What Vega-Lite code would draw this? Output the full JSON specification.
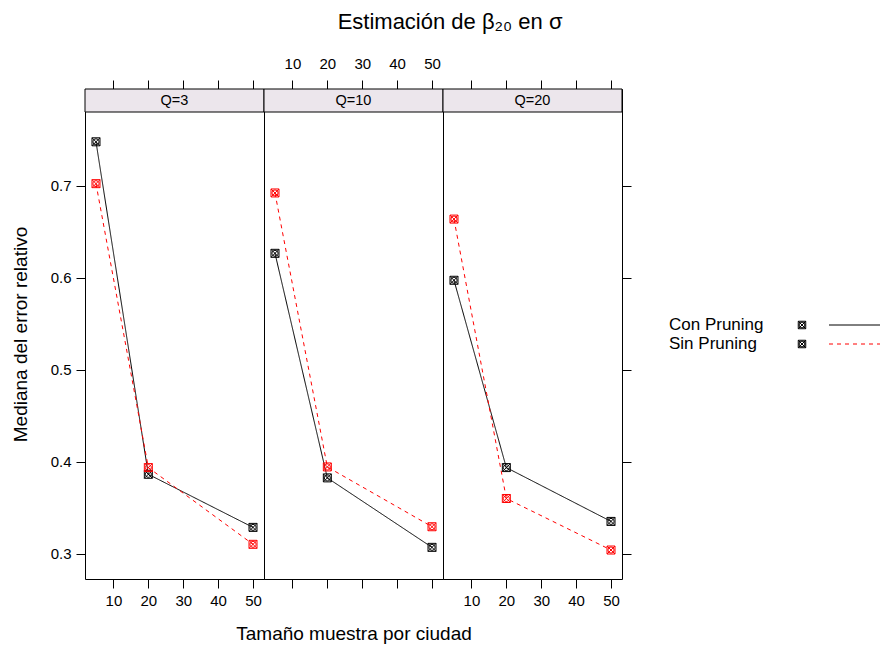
{
  "$schema": "https://vega.github.io/schema/vega-lite/v6.json",
  "padding": {"left": 10, "top": 10, "right": 0, "bottom": 0},
  "autosize": {"type": "pad"},
  "background": "white",
  "title": {"text": "Estimación de β₂₀ en σ", "font": "Liberation Sans", "fontSize": 22, "fontWeight": "normal", "color": "black", "anchor": "middle", "frame": "bounds", "offset": 22, "dx": 4},
  "config": {
    "font": "Liberation Sans",
    "view": {"stroke": "black", "strokeWidth": 1},
    "axis": {"grid": false, "domain": false, "tickColor": "black", "tickSize": 9, "labelFont": "Liberation Sans", "labelFontSize": 15, "labelColor": "black", "titleFont": "Liberation Sans", "titleFontSize": 19, "titleFontWeight": "normal", "titleColor": "black"}
  },
  "datasets": {
    "obs": [
      {"Q": "Q=3", "serie": "Con Pruning", "n": 5, "v": 0.748},
      {"Q": "Q=3", "serie": "Con Pruning", "n": 20, "v": 0.3866},
      {"Q": "Q=3", "serie": "Con Pruning", "n": 50, "v": 0.3289},
      {"Q": "Q=3", "serie": "Sin Pruning", "n": 5, "v": 0.7025},
      {"Q": "Q=3", "serie": "Sin Pruning", "n": 20, "v": 0.3939},
      {"Q": "Q=3", "serie": "Sin Pruning", "n": 50, "v": 0.3105},
      {"Q": "Q=10", "serie": "Con Pruning", "n": 5, "v": 0.6268},
      {"Q": "Q=10", "serie": "Con Pruning", "n": 20, "v": 0.3827},
      {"Q": "Q=10", "serie": "Con Pruning", "n": 50, "v": 0.3072},
      {"Q": "Q=10", "serie": "Sin Pruning", "n": 5, "v": 0.6924},
      {"Q": "Q=10", "serie": "Sin Pruning", "n": 20, "v": 0.3946},
      {"Q": "Q=10", "serie": "Sin Pruning", "n": 50, "v": 0.3296},
      {"Q": "Q=20", "serie": "Con Pruning", "n": 5, "v": 0.5975},
      {"Q": "Q=20", "serie": "Con Pruning", "n": 20, "v": 0.3939},
      {"Q": "Q=20", "serie": "Con Pruning", "n": 50, "v": 0.3354},
      {"Q": "Q=20", "serie": "Sin Pruning", "n": 5, "v": 0.664},
      {"Q": "Q=20", "serie": "Sin Pruning", "n": 20, "v": 0.3603},
      {"Q": "Q=20", "serie": "Sin Pruning", "n": 50, "v": 0.3043}
    ],
    "strips": [{"Q": "Q=3"}, {"Q": "Q=10"}, {"Q": "Q=20"}],
    "leg": [{"serie": "Con Pruning"}, {"serie": "Sin Pruning"}]
  },
  "spacing": 0,
  "bounds": "flush",
  "resolve": {"scale": {"x": "independent", "y": "independent", "color": "shared", "strokeDash": "shared"}},
  "hconcat": [
    {
      "width": 179, "height": 490,
      "layer": [
        {"data": {"name": "strips"}, "transform": [{"filter": "datum.Q == 'Q=3'"}],
         "mark": {"type": "rect", "fill": "#ECE6EC", "stroke": "black", "strokeWidth": 1},
         "encoding": {"x": {"datum": 1.85, "type": "quantitative", "axis": null}, "x2": {"datum": 53.15},
           "y": {"datum": 0.7804, "type": "quantitative", "axis": {"orient": "left", "values": [0.3, 0.4, 0.5, 0.6, 0.7], "format": ".1f", "title": "Mediana del error relativo", "titlePadding": 20, "labelPadding": 5}}, "y2": {"datum": 0.8054}}},
        {"data": {"name": "strips"}, "transform": [{"filter": "datum.Q == 'Q=3'"}],
         "mark": {"type": "text", "fontSize": 14.5, "font": "Liberation Sans", "color": "black", "baseline": "middle"},
         "encoding": {"x": {"datum": 27.5, "type": "quantitative", "axis": null},
           "y": {"datum": 0.7929, "type": "quantitative", "axis": {"orient": "left", "values": [0.3, 0.4, 0.5, 0.6, 0.7], "format": ".1f", "title": "Mediana del error relativo", "titlePadding": 20, "labelPadding": 5}}, "text": {"field": "Q"}}},
        {"data": {"name": "obs"}, "transform": [{"filter": "datum.Q == 'Q=3'"}],
         "mark": {"type": "line", "strokeWidth": 1},
         "encoding": {
           "x": {"field": "n", "type": "quantitative", "scale": {"domain": [1.85, 53.15], "nice": false, "zero": false}, "axis": {"orient": "bottom", "values": [10, 20, 30, 40, 50], "title": null, "labelPadding": 5}},
           "y": {"field": "v", "type": "quantitative", "scale": {"domain": [0.2728, 0.8054], "nice": false, "zero": false}, "axis": {"orient": "left", "values": [0.3, 0.4, 0.5, 0.6, 0.7], "format": ".1f", "title": "Mediana del error relativo", "titlePadding": 20, "labelPadding": 5}},
           "color": {"field": "serie", "type": "nominal", "scale": {"domain": ["Con Pruning", "Sin Pruning"], "range": ["black", "#FF0000"]}, "legend": null},
           "strokeDash": {"field": "serie", "type": "nominal", "scale": {"domain": ["Con Pruning", "Sin Pruning"], "range": [[1, 0], [4, 4]]}, "legend": null}
         }},
        {"data": {"name": "obs"}, "transform": [{"filter": "datum.Q == 'Q=3'"}],
         "mark": {"type": "point", "shape": "M-1,-1H1V1H-1Z M-1,-1L1,1 M-1,1L1,-1 M0.75,0A0.75,0.75 0 1 1 -0.75,0A0.75,0.75 0 1 1 0.75,0", "filled": false, "size": 64, "strokeWidth": 1, "opacity": 1},
         "encoding": {
           "x": {"field": "n", "type": "quantitative", "axis": {"orient": "top", "values": [10, 20, 30, 40, 50], "labels": false, "title": null}},
           "y": {"field": "v", "type": "quantitative", "axis": {"orient": "left", "values": [0.3, 0.4, 0.5, 0.6, 0.7], "format": ".1f", "title": "Mediana del error relativo", "titlePadding": 20, "labelPadding": 5}},
           "color": {"field": "serie", "type": "nominal", "legend": null}
         }}
      ]
    },
    {
      "width": 179, "height": 490,
      "layer": [
        {"data": {"name": "strips"}, "transform": [{"filter": "datum.Q == 'Q=10'"}],
         "mark": {"type": "rect", "fill": "#ECE6EC", "stroke": "black", "strokeWidth": 1},
         "encoding": {"x": {"datum": 1.85, "type": "quantitative", "axis": null}, "x2": {"datum": 53.15}, "y": {"datum": 0.7804, "type": "quantitative", "axis": null}, "y2": {"datum": 0.8054}}},
        {"data": {"name": "strips"}, "transform": [{"filter": "datum.Q == 'Q=10'"}],
         "mark": {"type": "text", "fontSize": 14.5, "font": "Liberation Sans", "color": "black", "baseline": "middle"},
         "encoding": {"x": {"datum": 27.5, "type": "quantitative", "axis": null}, "y": {"datum": 0.7929, "type": "quantitative", "axis": null}, "text": {"field": "Q"}}},
        {"data": {"name": "obs"}, "transform": [{"filter": "datum.Q == 'Q=10'"}],
         "mark": {"type": "line", "strokeWidth": 1},
         "encoding": {
           "x": {"field": "n", "type": "quantitative", "scale": {"domain": [1.85, 53.15], "nice": false, "zero": false}, "axis": {"orient": "bottom", "values": [10, 20, 30, 40, 50], "labels": false, "title": "Tamaño muestra por ciudad", "titlePadding": 36}},
           "y": {"field": "v", "type": "quantitative", "scale": {"domain": [0.2728, 0.8054], "nice": false, "zero": false}, "axis": null},
           "color": {"field": "serie", "type": "nominal", "legend": null},
           "strokeDash": {"field": "serie", "type": "nominal", "legend": null}
         }},
        {"data": {"name": "obs"}, "transform": [{"filter": "datum.Q == 'Q=10'"}],
         "mark": {"type": "point", "shape": "M-1,-1H1V1H-1Z M-1,-1L1,1 M-1,1L1,-1 M0.75,0A0.75,0.75 0 1 1 -0.75,0A0.75,0.75 0 1 1 0.75,0", "filled": false, "size": 64, "strokeWidth": 1, "opacity": 1},
         "encoding": {
           "x": {"field": "n", "type": "quantitative", "axis": {"orient": "top", "values": [10, 20, 30, 40, 50], "title": null, "labelPadding": 9}},
           "y": {"field": "v", "type": "quantitative", "axis": null},
           "color": {"field": "serie", "type": "nominal", "legend": null}
         }}
      ]
    },
    {
      "width": 179, "height": 490,
      "layer": [
        {"data": {"name": "strips"}, "transform": [{"filter": "datum.Q == 'Q=20'"}],
         "mark": {"type": "rect", "fill": "#ECE6EC", "stroke": "black", "strokeWidth": 1},
         "encoding": {"x": {"datum": 1.85, "type": "quantitative", "axis": null}, "x2": {"datum": 53.15},
           "y": {"datum": 0.7804, "type": "quantitative", "axis": {"orient": "right", "values": [0.3, 0.4, 0.5, 0.6, 0.7], "labels": false, "title": null}}, "y2": {"datum": 0.8054}}},
        {"data": {"name": "strips"}, "transform": [{"filter": "datum.Q == 'Q=20'"}],
         "mark": {"type": "text", "fontSize": 14.5, "font": "Liberation Sans", "color": "black", "baseline": "middle"},
         "encoding": {"x": {"datum": 27.5, "type": "quantitative", "axis": null},
           "y": {"datum": 0.7929, "type": "quantitative", "axis": {"orient": "right", "values": [0.3, 0.4, 0.5, 0.6, 0.7], "labels": false, "title": null}}, "text": {"field": "Q"}}},
        {"data": {"name": "obs"}, "transform": [{"filter": "datum.Q == 'Q=20'"}],
         "mark": {"type": "line", "strokeWidth": 1},
         "encoding": {
           "x": {"field": "n", "type": "quantitative", "scale": {"domain": [1.85, 53.15], "nice": false, "zero": false}, "axis": {"orient": "bottom", "values": [10, 20, 30, 40, 50], "title": null, "labelPadding": 5}},
           "y": {"field": "v", "type": "quantitative", "scale": {"domain": [0.2728, 0.8054], "nice": false, "zero": false}, "axis": {"orient": "right", "values": [0.3, 0.4, 0.5, 0.6, 0.7], "labels": false, "title": null}},
           "color": {"field": "serie", "type": "nominal", "legend": null},
           "strokeDash": {"field": "serie", "type": "nominal", "legend": null}
         }},
        {"data": {"name": "obs"}, "transform": [{"filter": "datum.Q == 'Q=20'"}],
         "mark": {"type": "point", "shape": "M-1,-1H1V1H-1Z M-1,-1L1,1 M-1,1L1,-1 M0.75,0A0.75,0.75 0 1 1 -0.75,0A0.75,0.75 0 1 1 0.75,0", "filled": false, "size": 64, "strokeWidth": 1, "opacity": 1},
         "encoding": {
           "x": {"field": "n", "type": "quantitative", "axis": {"orient": "top", "values": [10, 20, 30, 40, 50], "labels": false, "title": null}},
           "y": {"field": "v", "type": "quantitative", "axis": {"orient": "right", "values": [0.3, 0.4, 0.5, 0.6, 0.7], "labels": false, "title": null}},
           "color": {"field": "serie", "type": "nominal", "legend": null}
         }}
      ]
    },
    {
      "width": 259, "height": 490,
      "view": {"stroke": null},
      "data": {"name": "leg"},
      "layer": [
        {"mark": {"type": "text", "align": "left", "baseline": "middle", "fontSize": 17, "font": "Liberation Sans", "color": "black"},
         "encoding": {"x": {"datum": 47, "type": "quantitative", "scale": {"domain": [0, 259], "nice": false, "zero": false}, "axis": null}, "y": {"field": "serie", "type": "nominal", "scale": {"type": "point", "range": [236, 255], "padding": 0}, "axis": null}, "text": {"field": "serie"}}},
        {"mark": {"type": "point", "shape": "M-1,-1H1V1H-1Z M-1,-1L1,1 M-1,1L1,-1 M0.75,0A0.75,0.75 0 1 1 -0.75,0A0.75,0.75 0 1 1 0.75,0", "filled": false, "size": 56, "strokeWidth": 1, "opacity": 1, "color": "black"},
         "encoding": {"x": {"datum": 180, "type": "quantitative", "axis": null}, "y": {"field": "serie", "type": "nominal", "axis": null}}},
        {"mark": {"type": "rule", "strokeWidth": 1},
         "encoding": {"x": {"datum": 207, "type": "quantitative", "axis": null}, "x2": {"datum": 259}, "y": {"field": "serie", "type": "nominal", "axis": null}, "color": {"field": "serie", "type": "nominal", "legend": null}, "strokeDash": {"field": "serie", "type": "nominal", "legend": null}}}
      ]
    }
  ]
}
